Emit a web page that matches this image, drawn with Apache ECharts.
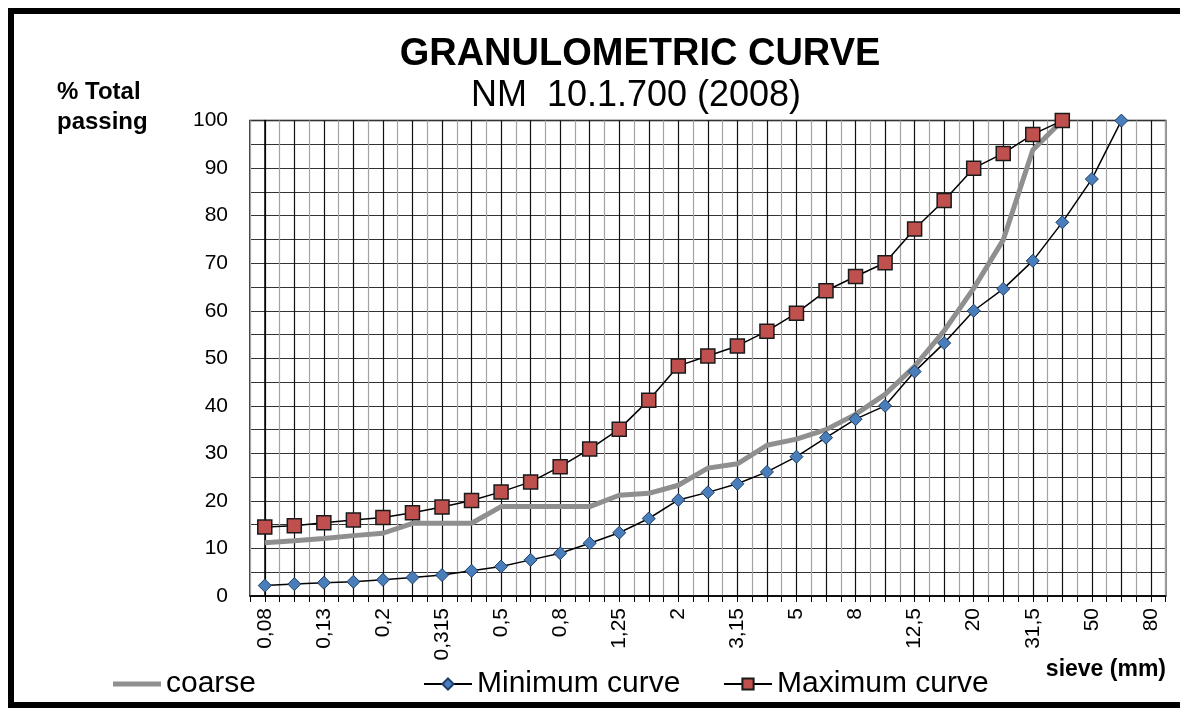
<!DOCTYPE html>
<html><head><meta charset="utf-8">
<script src="https://cdn.jsdelivr.net/npm/echarts@6/dist/echarts.min.js"></script>
<style>html,body{margin:0;padding:0;background:#fff}#c{width:1180px;height:708px}</style>
</head><body><div id="c"></div>
<script>
// Sieve sizes (mm), one category per sieve
const sieves = ['0,08','0,1','0,13','0,16','0,2','0,25','0,315','0,4','0,5','0,63','0,8','1','1,25','1,6','2','2,5','3,15','4','5','6,3','8','10','12,5','16','20','25','31,5','40','50','63','80'];
// % total passing
const coarse  = [11.2,11.6,12.1,12.7,13.2,15.3,15.3,15.3,18.8,18.8,18.8,18.8,21.2,21.6,23.3,26.9,27.8,31.7,33.0,35.0,38.2,42.4,48.3,55.8,64.7,74.9,93.8,100];
const minimum = [2.2,2.5,2.8,3.0,3.4,3.9,4.4,5.3,6.2,7.6,9.0,11.1,13.3,16.3,20.2,21.8,23.6,26.1,29.3,33.3,37.2,40.0,47.2,53.2,60.0,64.6,70.5,78.6,87.7,100];
const maximum = [14.5,14.8,15.4,16.0,16.5,17.5,18.7,20.1,21.9,24.0,27.2,30.9,35.1,41.2,48.4,50.5,52.6,55.7,59.5,64.2,67.2,70.1,77.2,83.2,90.0,93.1,97.1,100];
const yTicks = [0,10,20,30,40,50,60,70,80,90,100];

const FONT = '"Liberation Sans", Arial, sans-serif';
const pairs = arr => arr.map((v, i) => [i, v]);

const chart = echarts.init(document.getElementById('c'), null, {renderer: 'canvas'});
chart.setOption({
  backgroundColor: '#fff',
  animation: false,
  textStyle: {fontFamily: FONT, color: '#000'},
  grid: {left: 250, top: 120.6, right: 14.3, bottom: 112, show: true, borderColor: '#000', borderWidth: 1.5, containLabel: false},
  xAxis: {
    type: 'value', min: -0.5, max: sieves.length - 0.5, interval: 0.5,
    axisLine: {show: true, lineStyle: {color: '#000', width: 1.5}},
    axisTick: {show: true, length: 6, lineStyle: {color: '#000', width: 1}},
    axisLabel: {
      rotate: 90, margin: 12, fontSize: 21, color: '#000', fontFamily: FONT,
      formatter: v => (Number.isInteger(v) && v % 2 === 0 && v >= 0) ? sieves[v] : '',
      showMinLabel: true, showMaxLabel: true, hideOverlap: false
    },
    splitLine: {show: true, lineStyle: {color: ['#a3a3a3', '#111'], width: 1.2}}
  },
  yAxis: {
    type: 'value', min: 0, max: 100, interval: 5,
    axisLine: {show: true, lineStyle: {color: '#000', width: 1.5}},
    axisTick: {show: false},
    axisLabel: {margin: 22, fontSize: 21, color: '#000', fontFamily: FONT,
      formatter: v => yTicks.includes(v) ? String(v) : ''},
    splitLine: {show: true, lineStyle: {color: '#333', width: 1}}
  },
  legend: [
    {data: [{name: 'coarse', icon: 'rect'}], left: 108, top: 664, itemWidth: 48, itemHeight: 5, itemStyle: {color: '#8f8f8f'}, textStyle: {fontSize: 30, color: '#000', fontFamily: FONT}},
    {data: ['Minimum curve'], left: 418, top: 664, itemWidth: 48, itemHeight: 14, textStyle: {fontSize: 30, color: '#000', fontFamily: FONT}},
    {data: ['Maximum curve'], left: 718, top: 664, itemWidth: 48, itemHeight: 14, textStyle: {fontSize: 30, color: '#000', fontFamily: FONT}}
  ],
  series: [
    {name: 'coarse', type: 'line', data: pairs(coarse), symbol: 'none', z: 2,
     lineStyle: {color: '#8f8f8f', width: 5}, itemStyle: {color: '#8f8f8f'}},
    {name: 'Minimum curve', type: 'line', data: pairs(minimum), symbol: 'diamond', symbolSize: 13, z: 3,
     lineStyle: {color: '#000', width: 1.5},
     itemStyle: {color: '#4a7ebb', borderColor: '#1d3d66', borderWidth: 1}},
    {name: 'Maximum curve', type: 'line', data: pairs(maximum), symbol: 'rect', symbolSize: 14, z: 4,
     lineStyle: {color: '#000', width: 1.5},
     itemStyle: {color: '#c0504d', borderColor: '#1a1a1a', borderWidth: 1.5}}
  ],
  graphic: [
    {type: 'rect', shape: {x: 11, y: 11, width: 1185, height: 694}, style: {fill: 'none', stroke: '#000', lineWidth: 6}, silent: true},
    {type: 'text', x: 640, y: 55, style: {text: 'GRANULOMETRIC CURVE', font: 'bold 38px ' + FONT, fill: '#000', textAlign: 'center', textVerticalAlign: 'middle'}},
    {type: 'text', x: 636, y: 96, style: {text: 'NM  10.1.700 (2008)', font: '36px ' + FONT, fill: '#000', textAlign: 'center', textVerticalAlign: 'middle'}},
    {type: 'text', x: 57, y: 92, style: {text: '% Total', font: 'bold 24px ' + FONT, fill: '#000', textAlign: 'left', textVerticalAlign: 'middle'}},
    {type: 'text', x: 57, y: 122, style: {text: 'passing', font: 'bold 24px ' + FONT, fill: '#000', textAlign: 'left', textVerticalAlign: 'middle'}},
    {type: 'text', x: 1166, y: 670, style: {text: 'sieve (mm)', font: 'bold 23px ' + FONT, fill: '#000', textAlign: 'right', textVerticalAlign: 'middle'}}
  ]
});
</script>
</body></html>
